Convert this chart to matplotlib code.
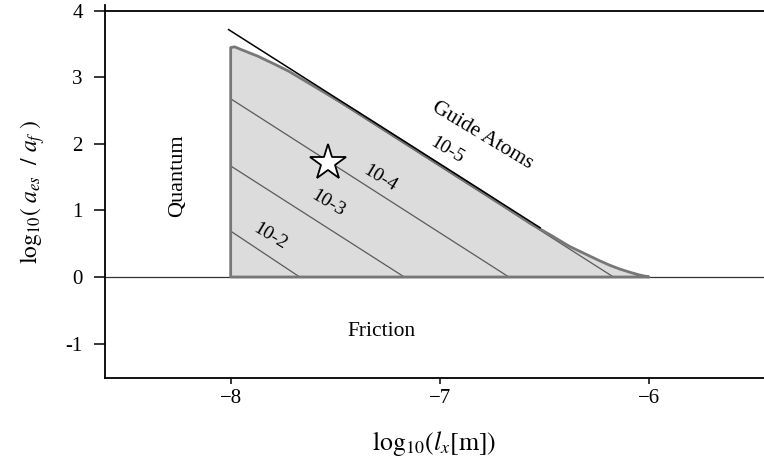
import matplotlib
matplotlib.use("Agg")
import matplotlib.pyplot as plt
from matplotlib.patches import Polygon
import numpy as np

plt.rcParams["font.family"] = ["Liberation Serif", "DejaVu Serif"]
plt.rcParams["mathtext.fontset"] = "stix"

# Upper boundary of the allowed region (log10 l_x, log10 a_es/a_f)
boundary_x = [-8.00, -7.98, -7.95, -7.87, -7.79, -7.72, -7.40, -7.10,
              -6.80, -6.57, -6.47, -6.38, -6.28, -6.235, -6.19, -6.14,
              -6.09, -6.045, -6.00]
boundary_y = [3.45, 3.46, 3.42, 3.32, 3.20, 3.09, 2.49, 1.89,
              1.29, 0.81, 0.63, 0.46, 0.31, 0.243, 0.18, 0.12,
              0.07, 0.03, 0.00]

# Guide-atom limit (straight line)
guide_x = [-8.01, -6.52]
guide_y = [3.72, 0.74]

# Iso-lines: value at x = -8 and crossing of y = 0
contour_labels = ["10-2", "10-3", "10-4", "10-5"]
contour_y_left = [0.69, 1.67, 2.68, 3.67]
contour_x_zero = [-7.67, -7.17, -6.67, -6.17]
contour_label_pos = [(-7.813, 0.61), (-7.534, 1.11), (-7.287, 1.48), (-6.968, 1.91)]

# Operating point
star_x, star_y = -7.536, 1.71

fig = plt.figure(figsize=(7.64, 4.62), dpi=100)
ax = fig.add_axes([0.1374, 0.1812, 0.8626, 0.808])

x_left, x_right = -8.601, -5.45
ax.set_xlim(x_left, x_right)
ax.set_ylim(-1.523, 4.09)

# shaded region
poly_x = [boundary_x[0]] + boundary_x + [boundary_x[-1]]
poly_y = [0.0] + boundary_y + [0.0]
region = Polygon(np.column_stack([poly_x, poly_y]), closed=True,
                 facecolor="#dcdcdc", edgecolor="none", zorder=1)
ax.add_patch(region)

# iso-lines clipped to the region
for y0, x0 in zip(contour_y_left, contour_x_zero):
    ln, = ax.plot([-8.0, x0], [y0, 0.0], color="#5a5a5a", lw=0.9, zorder=2)
    ln.set_clip_path(region)

# axis line at zero
ax.plot([x_left, x_right], [0, 0], color="#333333", lw=0.9, zorder=2)

# region outline
outline = Polygon(np.column_stack([poly_x, poly_y]), closed=True,
                  facecolor="none", edgecolor="#777777", lw=2.0,
                  joinstyle="round", zorder=3)
ax.add_patch(outline)

# guide line
ax.plot(guide_x, guide_y, color="black", lw=1.1, zorder=4)

# top frame line
ax.plot([x_left, x_right], [4, 4], color="black", lw=1.3, zorder=4, clip_on=False)

ax.plot([star_x], [star_y], marker="*", ms=27, mfc="white", mec="black",
        mew=1.3, zorder=5)

for lab, (tx, ty) in zip(contour_labels, contour_label_pos):
    ax.text(tx, ty, lab, rotation=-31, ha="center", va="center",
            fontsize=14, zorder=6, rotation_mode="anchor")

ax.text(-6.795, 2.13, "Guide Atoms", rotation=-31, ha="center", va="center",
        fontsize=15.5, rotation_mode="anchor")
ax.text(-8.254, 1.52, "Quantum", rotation=90, ha="center", va="center", fontsize=16)
ax.text(-7.28, -0.82, "Friction", ha="center", va="center", fontsize=15.5)

xticks = [-8, -7, -6]
yticks = [-1, 0, 1, 2, 3, 4]
ytick_labels = ["-1", "0", "1", "2", "3", "4"]
ax.set_xticks(xticks)
ax.set_xticklabels(["\u22128", "\u22127", "\u22126"])
ax.set_yticks(yticks)
ax.set_yticklabels(ytick_labels)

for s in ["top", "right"]:
    ax.spines[s].set_visible(False)
for s in ["left", "bottom"]:
    ax.spines[s].set_linewidth(1.3)
ax.tick_params(axis="y", direction="out", length=8, width=1.1, labelsize=15, pad=8)
ax.tick_params(axis="x", direction="out", length=4, width=1.1, labelsize=15, pad=4)

ax.set_xlabel(r"$\mathrm{log}_{10}(l_x[\mathrm{m}])$", fontsize=18.5, labelpad=15)
ax.set_ylabel(r"$\mathrm{log}_{10}(\ a_{es}\ \ /\ a_f\ )$", fontsize=17, labelpad=13)

fig.savefig("out.png", dpi=100)
